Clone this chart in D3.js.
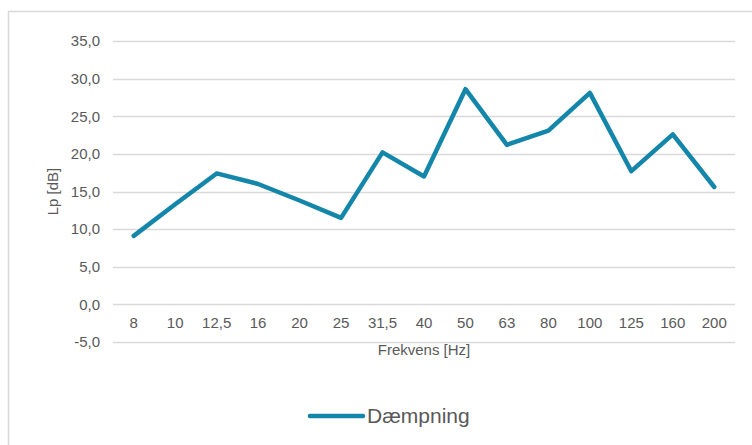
<!DOCTYPE html>
<html>
<head>
<meta charset="utf-8">
<script src="https://cdn.jsdelivr.net/npm/d3@7"></script>
<style>
  body { margin: 0; background: #fff; }
  text { font-family: "Liberation Sans", Arial, sans-serif; fill: #595959; }
</style>
</head>
<body>
<div id="chart-container"></div>
<script>
// chart data
const frequencies = ["8", "10", "12,5", "16", "20", "25", "31,5", "40", "50", "63", "80", "100", "125", "160", "200"];
const dampening = [9.1, 13.3, 17.4, 16.0, 13.8, 11.5, 20.2, 17.0, 28.6, 21.2, 23.1, 28.1, 17.7, 22.6, 15.6];
const yTicks = [-5, 0, 5, 10, 15, 20, 25, 30, 35];
const seriesName = "Dæmpning";

const width = 752;
const height = 445;
const margin = { top: 41, right: 17, bottom: 104, left: 113 };
const lineColor = "#1386a9";

const svg = d3.select("#chart-container")
    .append("svg")
    .attr("width", width)
    .attr("height", height);

// chart frame
svg.append("rect")
    .attr("x", 8.5)
    .attr("y", 11.5)
    .attr("width", 760)
    .attr("height", 460)
    .attr("fill", "none")
    .attr("stroke", "#d9d9d9")
    .attr("stroke-width", 1.5);

const xScale = d3.scaleBand()
    .domain(frequencies)
    .range([margin.left, width - margin.right]);

const yScale = d3.scaleLinear()
    .domain([-5, 35])
    .range([height - margin.bottom + 1, margin.top]);

// gridlines
svg.append("g")
    .selectAll("line")
    .data(yTicks)
    .enter()
    .append("line")
    .attr("x1", margin.left)
    .attr("x2", width - margin.right)
    .attr("y1", d => Math.round(yScale(d)) + 0.5)
    .attr("y2", d => Math.round(yScale(d)) + 0.5)
    .attr("stroke", "#d9d9d9")
    .attr("stroke-width", 1.5);

// y tick labels, comma decimal and plain hyphen minus
const fmt = d => d3.format(".1f")(d).replace(".", ",").replace("\u2212", "-");
svg.append("g")
    .selectAll("text")
    .data(yTicks)
    .enter()
    .append("text")
    .attr("x", margin.left - 13)
    .attr("y", d => yScale(d))
    .attr("dy", "0.35em")
    .attr("text-anchor", "end")
    .attr("font-size", 15)
    .text(fmt);

// x tick labels (between 0 and -5 gridlines)
svg.append("g")
    .selectAll("text")
    .data(frequencies)
    .enter()
    .append("text")
    .attr("x", d => xScale(d) + xScale.bandwidth() / 2)
    .attr("y", yScale(-2.5))
    .attr("dy", "0.35em")
    .attr("text-anchor", "middle")
    .attr("font-size", 15)
    .text(d => d);

// axis titles
svg.append("text")
    .attr("x", (margin.left + width - margin.right) / 2)
    .attr("y", 355)
    .attr("text-anchor", "middle")
    .attr("font-size", 15)
    .text("Frekvens [Hz]");

svg.append("text")
    .attr("transform", `translate(53,${yScale(15)}) rotate(-90)`)
    .attr("dy", "0.35em")
    .attr("text-anchor", "middle")
    .attr("font-size", 15)
    .text("Lp [dB]");

// data line
const line = d3.line()
    .x((d, i) => xScale(frequencies[i]) + xScale.bandwidth() / 2)
    .y(d => yScale(d));

svg.append("path")
    .datum(dampening)
    .attr("d", line)
    .attr("fill", "none")
    .attr("stroke", lineColor)
    .attr("stroke-width", 4.5)
    .attr("stroke-linejoin", "round")
    .attr("stroke-linecap", "round");

// legend
const legend = svg.append("g").attr("transform", "translate(310,416)");
legend.append("line")
    .attr("x1", 0)
    .attr("x2", 53)
    .attr("y1", 0)
    .attr("y2", 0)
    .attr("stroke", lineColor)
    .attr("stroke-width", 4.5)
    .attr("stroke-linecap", "round");
legend.append("text")
    .attr("x", 57)
    .attr("y", 0)
    .attr("dy", "0.35em")
    .attr("font-size", 21)
    .text(seriesName);
</script>
</body>
</html>
